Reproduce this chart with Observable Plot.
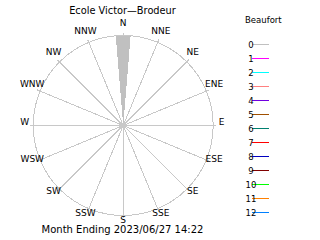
<!DOCTYPE html>
<html>
<head>
<meta charset="utf-8">
<script src="https://cdn.jsdelivr.net/npm/d3@7"></script>
<script src="https://cdn.jsdelivr.net/npm/@observablehq/plot@0.6"></script>
<style>
  html, body { margin: 0; padding: 0; background: #fff; }
  #chart { position: relative; width: 320px; height: 240px; overflow: hidden;
           font-family: "DejaVu Sans", sans-serif; color: #000; }
  #chart svg { position: absolute; top: 0; shape-rendering: crispEdges; }
  #legendhead { position: absolute; left: 245px; top: 15px; font-size: 8.5px; line-height: 10px; }
</style>
</head>
<body>
<div id="chart"><div id="legendhead">Beaufort</div></div>
<script>
// Station and period
const title = "Ecole Victor—Brodeur";
const caption = "Month Ending 2023/06/27 14:22";

// 16 compass points, clockwise from north
const directions = ["N", "NNE", "NE", "ENE", "E", "ESE", "SE", "SSE",
                    "S", "SSW", "SW", "WSW", "W", "WNW", "NW", "NNW"];
// Share of readings (%) per direction, Beaufort 0 (calm readings are logged as N)
const calmShare = [100, 0, 0, 0, 0, 0, 0, 0, 0, 0, 0, 0, 0, 0, 0, 0];

// Beaufort classes and their colours
const beaufortClasses = ["0", "1", "2", "3", "4", "5", "6", "7", "8", "9", "10", "11", "12"];
const beaufortColors = ["#c0c0c0", "#ff00ff", "#00ffff", "#ff8080", "#7000e0", "#a05000",
                        "#008070", "#ff0000", "#0000c0", "#800000", "#00ff00", "#ff8000", "#0080ff"];

// Rose geometry: 100 units = outer ring
const W = 240, H = 240, cx = 122.7, cy = 125, pxPerUnit = 0.9;
const ring = 100, spokeLen = 103.3, labelR = 109.4;
const petalHalf = 4.75 * Math.PI / 180;
const grid = "#c8c8c8";

const ang = i => i * 2 * Math.PI / directions.length;
const maxShare = d3.max(calmShare);

// petal outlines (closed triangles from the centre)
const petals = [];
calmShare.forEach((s, i) => {
  if (s <= 0) return;
  const r = s / maxShare * ring, a = ang(i);
  petals.push({dir: directions[i], x: 0, y: 0});
  petals.push({dir: directions[i], x: r * Math.sin(a - petalHalf), y: r * Math.cos(a - petalHalf)});
  petals.push({dir: directions[i], x: r * Math.sin(a + petalHalf), y: r * Math.cos(a + petalHalf)});
});

const rose = Plot.plot({
  width: W, height: H,
  marginTop: 0, marginRight: 0, marginBottom: 0, marginLeft: 0,
  x: {domain: [-cx / pxPerUnit, (W - cx) / pxPerUnit], axis: null},
  y: {domain: [-(H - cy) / pxPerUnit, cy / pxPerUnit], axis: null},
  style: {fontFamily: "DejaVu Sans, sans-serif", background: "transparent", color: "#000"},
  marks: [
    Plot.dot([0], {x: () => 0, y: () => 0, r: ring * pxPerUnit, stroke: grid, fill: "none", strokeWidth: 1}),
    Plot.link(directions, {
      x1: () => 0, y1: () => 0,
      x2: (d, i) => spokeLen * Math.sin(ang(i)),
      y2: (d, i) => spokeLen * Math.cos(ang(i)),
      stroke: grid, strokeWidth: 1
    }),
    Plot.line(petals, {x: "x", y: "y", z: "dir", fill: beaufortColors[0], stroke: "none", curve: "linear-closed"}),
    Plot.dot([0], {x: () => 0, y: () => 0, r: 2, fill: grid, stroke: "none"}),
    Plot.text(directions, {
      x: (d, i) => labelR * Math.sin(ang(i)),
      y: (d, i) => labelR * Math.cos(ang(i)),
      text: d => d, dy: -3.8, fontSize: 9, fill: "#000"
    }),
    Plot.text([title], {frameAnchor: "top", text: d => d, dx: 2, dy: 6.5, fontSize: 9.8, fill: "#000"}),
    Plot.text([caption], {frameAnchor: "bottom", text: d => d, dx: 2, dy: -7.3, fontSize: 10, fill: "#000"})
  ]
});
rose.style.left = "0px";

const legend = Plot.plot({
  width: 80, height: 240,
  marginTop: 0, marginBottom: 0, marginLeft: 12, marginRight: 51,
  y: {type: "point", domain: beaufortClasses, range: [34.5, 220.5], axis: null},
  color: {domain: beaufortClasses, range: beaufortColors},
  style: {fontFamily: "DejaVu Sans, sans-serif", background: "transparent", color: "#000"},
  marks: [
    Plot.ruleY(beaufortClasses, {y: d => d, stroke: d => d, strokeWidth: 1}),
    Plot.text(beaufortClasses, {y: d => d, text: d => d, frameAnchor: "left", dx: -1.5, dy: 0.5,
                                textAnchor: "middle", fontSize: 8.5, fill: "#000"})
  ]
});
legend.style.left = "240px";

const chart = document.getElementById("chart");
chart.appendChild(rose);
chart.appendChild(legend);
</script>
</body>
</html>
